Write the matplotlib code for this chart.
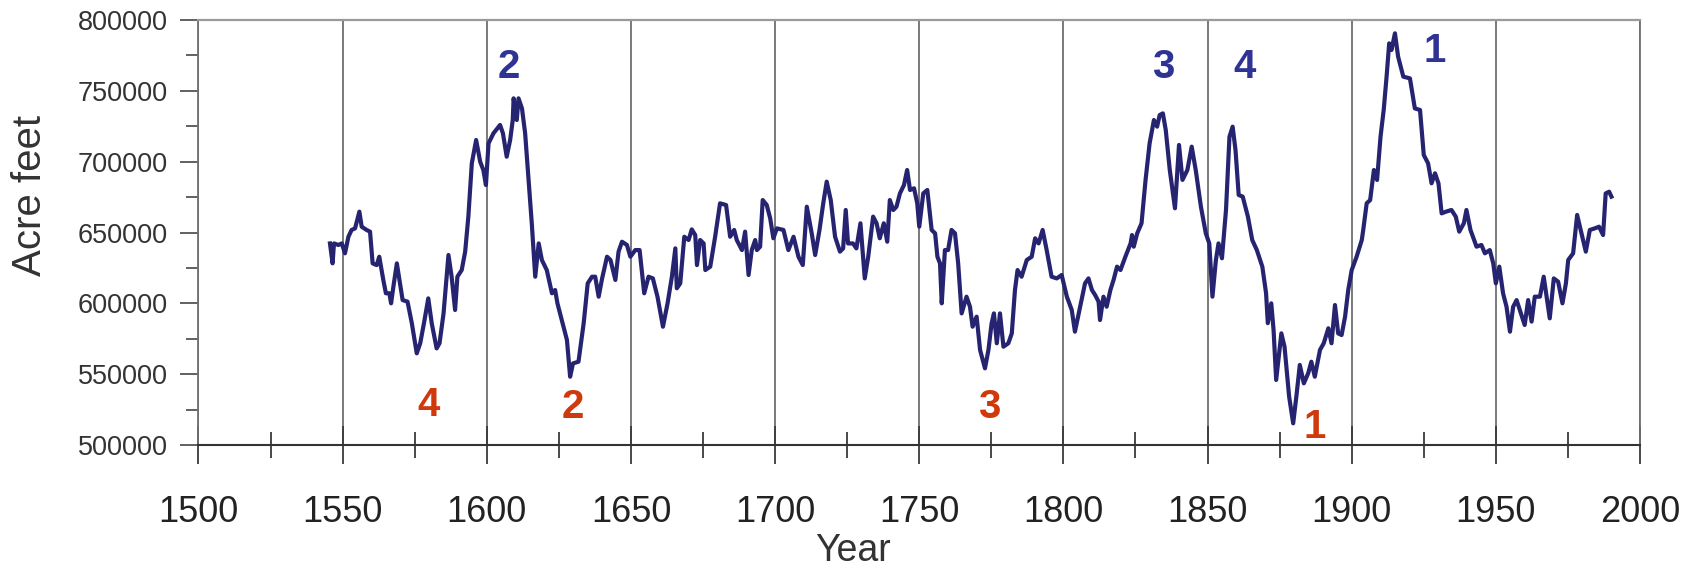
import matplotlib
matplotlib.use("Agg")
import matplotlib.pyplot as plt
import matplotlib.ticker as ticker
import numpy as np

plt.rcParams['font.family'] = ['Liberation Sans', 'DejaVu Sans']

# reconstructed flow (year, acre feet)
years = [1545.6, 1546.5, 1547.0, 1548.5, 1549.7, 1550.8, 1552.0, 1553.1, 1554.3, 1555.8,
         1556.6, 1558.3, 1559.5, 1560.4, 1561.8, 1562.7, 1564.1, 1565.0, 1566.2, 1566.8,
         1567.6, 1568.8, 1569.9, 1570.8, 1572.5, 1574.0, 1575.7, 1576.9, 1578.2, 1579.7,
         1580.9, 1582.6, 1583.6, 1585.0, 1586.7, 1587.8, 1589.0, 1589.8, 1591.3, 1592.5,
         1593.6, 1594.8, 1596.3, 1597.7, 1598.8, 1599.7, 1600.6, 1602.3, 1604.6, 1605.6,
         1606.9, 1608.1, 1609.0, 1609.3, 1610.4, 1611.0, 1612.2, 1613.3, 1614.5, 1615.6,
         1616.8, 1618.0, 1619.1, 1620.8, 1622.6, 1623.7, 1624.5, 1626.0, 1627.8, 1628.9,
         1629.9, 1631.8, 1633.6, 1635.0, 1636.5, 1637.6, 1638.8, 1640.0, 1641.7, 1642.9,
         1644.6, 1645.7, 1646.9, 1648.6, 1649.8, 1651.5, 1653.0, 1654.6, 1656.1, 1657.6,
         1659.2, 1661.1, 1662.7, 1664.2, 1665.4, 1665.9, 1667.1, 1668.5, 1670.0, 1671.1,
         1672.3, 1672.9, 1674.0, 1675.2, 1675.8, 1677.5, 1679.2, 1680.9, 1683.0, 1684.4,
         1685.8, 1686.7, 1688.5, 1689.6, 1690.8, 1691.9, 1693.1, 1693.7, 1694.8, 1695.7,
         1697.1, 1698.3, 1699.4, 1700.6, 1702.9, 1704.6, 1706.4, 1708.1, 1709.6, 1711.0,
         1712.7, 1713.9, 1715.4, 1716.7, 1717.9, 1719.3, 1720.8, 1722.5, 1723.6, 1724.5,
         1725.3, 1727.0, 1728.2, 1729.6, 1731.1, 1732.3, 1734.0, 1735.2, 1736.3, 1737.7,
         1738.9, 1739.8, 1741.0, 1742.1, 1743.3, 1744.7, 1745.8, 1746.8, 1748.2, 1749.3,
         1750.0, 1751.4, 1752.8, 1754.3, 1755.5, 1756.3, 1757.2, 1757.8, 1758.9, 1760.0,
         1761.2, 1762.4, 1763.5, 1764.7, 1766.4, 1767.6, 1768.5, 1769.9, 1771.1, 1772.8,
         1774.0, 1775.1, 1775.9, 1776.9, 1778.0, 1779.2, 1780.9, 1782.1, 1783.2, 1784.1,
         1785.5, 1787.3, 1789.0, 1790.2, 1791.4, 1792.8, 1794.2, 1795.9, 1797.7, 1799.4,
         1801.2, 1802.9, 1804.0, 1805.8, 1807.5, 1808.7, 1809.9, 1811.0, 1812.2, 1812.7,
         1813.9, 1815.0, 1816.3, 1817.4, 1818.6, 1819.8, 1821.5, 1823.3, 1823.8, 1824.4,
         1825.6, 1827.1, 1828.5, 1829.9, 1831.4, 1832.5, 1833.4, 1834.5, 1835.5, 1836.9,
         1838.7, 1840.1, 1841.3, 1843.0, 1844.5, 1845.9, 1847.7, 1849.4, 1850.6, 1851.7,
         1852.9, 1853.8, 1855.0, 1856.4, 1857.6, 1858.7, 1859.7, 1860.8, 1862.2, 1864.0,
         1865.5, 1867.1, 1869.0, 1870.3, 1870.9, 1872.1, 1872.9, 1873.8, 1875.6, 1876.7,
         1878.3, 1879.7, 1880.8, 1882.0, 1883.4, 1884.9, 1886.0, 1887.2, 1889.0, 1890.3,
         1891.9, 1893.0, 1894.2, 1895.3, 1896.5, 1897.7, 1898.8, 1900.0, 1901.7, 1903.5,
         1904.0, 1905.2, 1906.4, 1907.7, 1908.8, 1910.0, 1911.1, 1912.1, 1913.0, 1913.8,
         1915.0, 1916.1, 1917.9, 1920.2, 1921.9, 1923.7, 1925.0, 1926.5, 1927.7, 1928.9,
         1930.1, 1931.2, 1932.7, 1934.6, 1936.1, 1937.3, 1938.9, 1939.8, 1941.2, 1943.3,
         1945.0, 1946.2, 1947.9, 1949.1, 1950.0, 1951.2, 1952.5, 1953.7, 1954.9, 1956.0,
         1957.2, 1958.3, 1960.0, 1961.2, 1962.4, 1963.5, 1965.3, 1966.6, 1967.6, 1968.7,
         1970.1, 1971.6, 1973.1, 1974.3, 1975.1, 1976.8, 1978.2, 1979.7, 1981.2, 1982.6,
         1984.3, 1985.8, 1987.2, 1988.1, 1989.3, 1990.1]
flow = [642300, 628200, 642300, 641200, 642300, 635300, 647000, 651800, 652900, 664700,
        654100, 651800, 650600, 628200, 627000, 632900, 616500, 607100, 607100, 600000,
        611800, 628200, 614100, 602300, 601200, 585900, 564700, 571800, 585900, 603500,
        585900, 568200, 571800, 592900, 634100, 618800, 595300, 618800, 623500, 636500,
        661200, 698800, 715300, 700000, 694100, 683500, 712900, 720000, 725900, 720000,
        703500, 715300, 729400, 744700, 729400, 744700, 737600, 720000, 687100, 656500,
        618800, 642300, 630600, 623500, 607100, 609400, 600000, 588200, 574100, 548200,
        557600, 558800, 585900, 614100, 618800, 618800, 604700, 617600, 632900, 630600,
        616500, 636500, 643500, 641200, 632900, 637600, 637600, 607100, 618800, 617600,
        604700, 583500, 600000, 618800, 638800, 610600, 614100, 647000, 644700, 652200,
        648200, 627000, 644700, 642300, 623500, 625900, 647000, 670600, 669400, 647000,
        651800, 644700, 637600, 650600, 620000, 637600, 644700, 637600, 640000, 672900,
        669400, 660000, 645900, 652900, 651800, 637600, 647000, 632900, 627000, 668200,
        649400, 634100, 651800, 670600, 685900, 672900, 647000, 636500, 638800, 665900,
        642300, 642300, 638800, 656500, 617600, 632900, 661200, 656500, 645900, 656500,
        643500, 672900, 665900, 668200, 677600, 683500, 694100, 680000, 681200, 670600,
        654100, 677600, 680000, 651800, 649400, 632900, 628200, 600000, 637600, 637600,
        651800, 649400, 628200, 592900, 604700, 597600, 583500, 590600, 567100, 554100,
        567100, 585900, 592900, 571800, 592900, 569400, 571800, 578800, 609400, 623500,
        618800, 630600, 632900, 645900, 642300, 651800, 637600, 618800, 617600, 620000,
        604700, 595300, 580000, 597600, 614100, 617600, 609400, 605900, 601200, 588200,
        604700, 597600, 609400, 616500, 625900, 623500, 632900, 642300, 648200, 640000,
        649400, 656500, 687100, 712900, 729400, 724700, 732900, 734100, 722400, 694100,
        667100, 711800, 687100, 694100, 710600, 694100, 668200, 649400, 642300, 604700,
        630600, 642300, 631800, 665900, 717600, 724700, 708200, 676500, 675300, 661200,
        644700, 637600, 625900, 607100, 586000, 600000, 581200, 545900, 578800, 569400,
        534100, 515300, 534100, 556500, 543500, 550600, 558800, 548200, 567100, 571800,
        582400, 571800, 598800, 578800, 577600, 590600, 609400, 623500, 632900, 644700,
        651800, 670600, 672900, 694100, 687100, 717600, 736500, 760000, 783500, 778800,
        790600, 774100, 760000, 758800, 737600, 736500, 704700, 698800, 684700, 691800,
        684700, 663500, 664700, 665900, 661200, 650600, 656500, 665900, 651800, 640000,
        641200, 635300, 637600, 628200, 614100, 625900, 607100, 597600, 580000, 597600,
        602300, 595300, 584700, 602300, 587100, 604700, 604700, 618800, 604700, 589400,
        617600, 615300, 600000, 614100, 630600, 635300, 662400, 649400, 636500, 651800,
        652900, 654100, 648200, 677600, 678800, 675300]

# wet (blue) and dry (red) periods, ranked
wet_labels = ['1', '2', '3', '4']
wet_years = [1928.8, 1607.8, 1834.7, 1862.8]
wet_levels = [770600, 758800, 758800, 758800]
dry_labels = ['1', '2', '3', '4']
dry_years = [1887.2, 1630.0, 1774.2, 1579.7]
dry_levels = [504900, 519000, 519000, 520500]

fig = plt.figure(figsize=(16.96, 5.70), dpi=100)
ax = fig.add_axes([0.11704, 0.2193, 0.84994, 0.74561])

ax.plot(years, flow, color='#262470', lw=3.0, solid_joinstyle='round', zorder=3)

for s, x, y in zip(wet_labels, wet_years, wet_levels):
    ax.text(x, y, s, color='#2e3394', fontsize=29, fontweight='bold',
            ha='center', va='baseline', zorder=4)
for s, x, y in zip(dry_labels, dry_years, dry_levels):
    ax.text(x, y, s, color='#d0390c', fontsize=29, fontweight='bold',
            ha='center', va='baseline', zorder=4)

ax.set_xlim(1500, 2000)
ax.set_ylim(500000, 800000)
ax.set_xticks(np.arange(1500, 2001, 50))
ax.set_xticks(np.arange(1525, 2000, 50), minor=True)
ax.set_yticks(np.arange(500000, 800001, 50000))
ax.set_yticks(np.arange(525000, 800000, 50000), minor=True)
ax.yaxis.set_major_formatter(ticker.FormatStrFormatter('%d'))

ax.grid(axis='x', which='major', color='#707070', lw=1.3)

ax.tick_params(axis='x', which='major', direction='inout', length=27.5, width=1.3,
               color='#3a3a3a', pad=22, labelsize=26, labelcolor='#222222')
ax.tick_params(axis='x', which='minor', direction='inout', length=18.5, width=1.3,
               color='#3a3a3a')
ax.tick_params(axis='y', which='major', direction='out', length=13, width=1.3,
               color='#555555', pad=9, labelsize=19.5, labelcolor='#333333')
ax.tick_params(axis='y', which='minor', direction='out', length=8.6, width=1.3,
               color='#555555')

ax.spines['top'].set_color('#9a9a9a')
ax.spines['top'].set_linewidth(1.6)
ax.spines['right'].set_color('#707070')
ax.spines['right'].set_linewidth(1.3)
ax.spines['left'].set_color('#707070')
ax.spines['left'].set_linewidth(1.3)
ax.spines['bottom'].set_color('#333333')
ax.spines['bottom'].set_linewidth(1.5)

fig.text(30 / 1696, 1 - 195 / 570, 'Acre feet', rotation=90, ha='center',
         va='center', fontsize=29, color='#333333')
fig.text(853 / 1696, 1 / 570, 'Year', ha='center', va='bottom',
         fontsize=27, color='#333333')

fig.savefig('out.png', dpi=100)
